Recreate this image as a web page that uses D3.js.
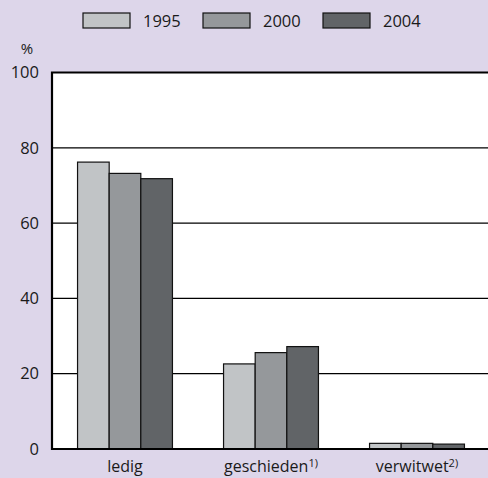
<!DOCTYPE html>
<html>
<head>
<meta charset="utf-8">
<script src="https://cdn.jsdelivr.net/npm/d3@7"></script>
<style>
  body { margin: 0; background: #ddd6ea; }
  text { font-family: "Open Sans", "Noto Sans", sans-serif; fill: #1a1a1a; }
</style>
</head>
<body>
<div id="chart"></div>
<script>
// Data
const categories = ["ledig", "geschieden", "verwitwet"];
const footnotes = ["", "1)", "2)"];
const years = ["1995", "2000", "2004"];
const values1995 = [76.2, 22.6, 1.5];
const values2000 = [73.2, 25.6, 1.5];
const values2004 = [71.8, 27.2, 1.3];
const yTicks = [0, 20, 40, 60, 80, 100];

const series = [values1995, values2000, values2004];
const colors = ["#c1c4c6", "#95989b", "#616467"];

const width = 488, height = 478;
const margin = { top: 72.5, right: -2, bottom: 29, left: 52 };
const h = height - margin.top - margin.bottom;
const w = width - margin.left - margin.right;

let svg = d3.select("#chart")
  .append("svg")
  .attr("width", width)
  .attr("height", height);

svg.append("rect")
  .attr("width", width).attr("height", height)
  .attr("fill", "#ddd6ea");

let g = svg.append("g")
  .attr("transform", `translate(${margin.left},${margin.top})`);

// Scales
let yScale = d3.scaleLinear().domain([0, 100]).range([h, 0]);
let xScale = d3.scaleBand().domain(categories).range([0, w]).paddingInner(0.35).paddingOuter(0.175);
let xInner = d3.scaleBand().domain(years).range([0, xScale.bandwidth()]);

// Plot background
g.append("rect")
  .attr("x", 0).attr("y", 0)
  .attr("width", w).attr("height", h)
  .attr("fill", "#fff");

// Gridlines
g.selectAll("line.grid")
  .data(yTicks.filter(d => d > 0 && d < 100))
  .enter()
  .append("line")
  .attr("class", "grid")
  .attr("x1", 0).attr("x2", w)
  .attr("y1", d => yScale(d)).attr("y2", d => yScale(d))
  .attr("stroke", "#000").attr("stroke-width", 1.2);

// Bars
categories.forEach((c, ci) => {
  years.forEach((y, yi) => {
    g.append("rect")
      .attr("x", xScale(c) + xInner(y))
      .attr("y", yScale(series[yi][ci]))
      .attr("width", xInner.bandwidth())
      .attr("height", h - yScale(series[yi][ci]))
      .attr("fill", colors[yi])
      .attr("stroke", "#111")
      .attr("stroke-width", 1.2);
  });
});

// Frame: top, left, bottom
g.append("path")
  .attr("d", `M${w},0H0V${h}H${w}`)
  .attr("fill", "none")
  .attr("stroke", "#000")
  .attr("stroke-width", 2.2);

// Y tick labels
g.selectAll("text.ytick")
  .data(yTicks)
  .enter()
  .append("text")
  .attr("class", "ytick")
  .attr("x", -13)
  .attr("y", d => yScale(d))
  .attr("dy", "0.35em")
  .attr("text-anchor", "end")
  .style("font-size", "16.5px")
  .text(d => d);

svg.append("text")
  .attr("x", 27).attr("y", 54)
  .attr("text-anchor", "middle")
  .style("font-size", "15px")
  .text("%");

// Category labels
let catText = g.selectAll("text.cat")
  .data(categories)
  .enter()
  .append("text")
  .attr("class", "cat")
  .attr("x", d => xScale(d) + xScale.bandwidth() / 2)
  .attr("y", h + 23)
  .attr("text-anchor", "middle")
  .style("font-size", "16px");
catText.append("tspan").text(d => d);
catText.append("tspan")
  .attr("dy", "-0.45em")
  .style("font-size", "11px")
  .text((d, i) => footnotes[i]);

// Legend
const legendX = [83, 203, 323];
years.forEach((y, i) => {
  svg.append("rect")
    .attr("x", legendX[i]).attr("y", 13)
    .attr("width", 47).attr("height", 15)
    .attr("fill", colors[i])
    .attr("stroke", "#111").attr("stroke-width", 1.2);
  svg.append("text")
    .attr("x", legendX[i] + 60).attr("y", 27)
    .style("font-size", "16.5px")
    .text(y);
});
</script>
</body>
</html>
